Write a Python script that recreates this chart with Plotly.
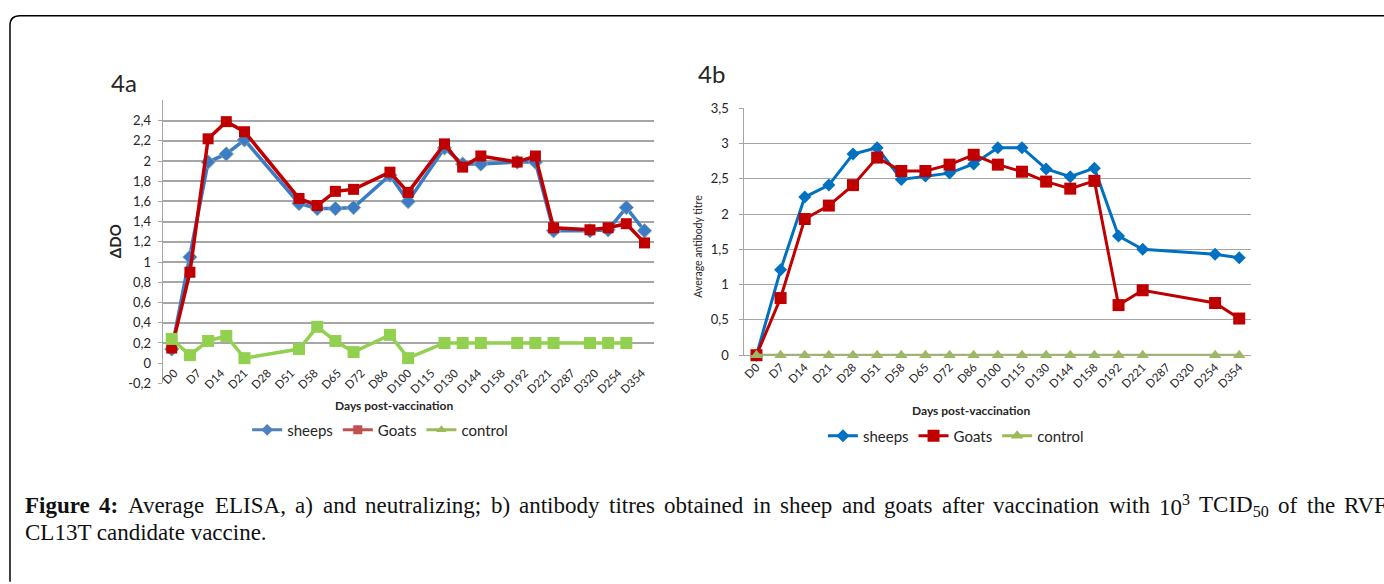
import plotly.graph_objects as go

W, H = 1384, 584

# ---------------- data ----------------
days = ["D0", "D7", "D14", "D21", "D28", "D51", "D58", "D65", "D72", "D86", "D100",
        "D115", "D130", "D144", "D158", "D192", "D221", "D287", "D320", "D254", "D354"]

# 4a: ELISA (delta DO); points sit on 27 evenly spaced slots of the original plot
elisa_slots = [0, 1, 2, 3, 4, 7, 8, 9, 10, 12, 13, 15, 16, 17, 19, 20, 21, 23, 24, 25, 26]
elisa_sheep = [0.14, 1.05, 1.99, 2.07, 2.21, 1.58, 1.53, 1.53, 1.54, 1.86, 1.60,
               2.13, 1.97, 1.97, 1.99, 1.99, 1.31, 1.31, 1.32, 1.54, 1.31]
elisa_goats = [0.15, 0.90, 2.22, 2.39, 2.29, 1.63, 1.56, 1.70, 1.72, 1.89, 1.69,
               2.17, 1.94, 2.05, 1.99, 2.05, 1.34, 1.32, 1.34, 1.38, 1.19]
elisa_control = [0.24, 0.08, 0.22, 0.27, 0.05, 0.14, 0.36, 0.22, 0.11, 0.28, 0.05,
                 0.20, 0.20, 0.20, 0.20, 0.20, 0.20, 0.20, 0.20, 0.20, None]
elisa_ticks = [-0.2, 0, 0.2, 0.4, 0.6, 0.8, 1, 1.2, 1.4, 1.6, 1.8, 2, 2.2, 2.4]
elisa_ticktext = ["-0,2", "0", "0,2", "0,4", "0,6", "0,8", "1", "1,2", "1,4", "1,6",
                  "1,8", "2", "2,2", "2,4"]

# 4b: neutralizing antibody titres
neut_sheep = [0, 1.21, 2.24, 2.41, 2.85, 2.94, 2.49, 2.54, 2.58, 2.71, 2.94,
              2.94, 2.64, 2.53, 2.65, 1.69, 1.50, None, None, 1.43, 1.38]
neut_goats = [0, 0.81, 1.93, 2.12, 2.41, 2.80, 2.61, 2.61, 2.70, 2.84, 2.70,
              2.60, 2.46, 2.36, 2.47, 0.71, 0.92, None, None, 0.74, 0.52]
neut_control = [0, 0, 0, 0, 0, 0, 0, 0, 0, 0, 0,
                0, 0, 0, 0, 0, 0, None, None, 0, 0]
neut_ticks = [0, 0.5, 1, 1.5, 2, 2.5, 3, 3.5]
neut_ticktext = ["0", "0,5", "1", "1,5", "2", "2,5", "3", "3,5"]

# caption words of the (justified) first line; (html, plain text for width, bold)
caption_words = [("<b>Figure</b>", "Figure", True), ("<b>4:</b>", "4:", True),
                 ("Average", "Average", False), ("ELISA,", "ELISA,", False),
                 ("a)", "a)", False), ("and", "and", False),
                 ("neutralizing;", "neutralizing;", False), ("b)", "b)", False),
                 ("antibody", "antibody", False), ("titres", "titres", False),
                 ("obtained", "obtained", False), ("in", "in", False),
                 ("sheep", "sheep", False), ("and", "and", False),
                 ("goats", "goats", False), ("after", "after", False),
                 ("vaccination", "vaccination", False), ("with", "with", False),
                 ("10<sup>3</sup>", "10^", False), ("TCID<sub>50</sub>", "TCID_", False),
                 ("of", "of", False), ("the", "the", False), ("RVF", "RVF", False)]
caption_line2 = "CL13T candidate vaccine."

# ---------------- helpers ----------------
def px_x(x):
    return x / W

def px_y(y):
    return 1 - y / H

# Times New Roman (= Liberation Serif) advance widths, per 1000 em
TNR = dict(zip("abcdefghijklmnopqrstuvwxyz",
               [444, 500, 444, 500, 444, 333, 500, 500, 278, 278, 500, 278, 778,
                500, 500, 500, 500, 333, 389, 278, 500, 500, 722, 500, 500, 444]))
TNR.update(dict(zip("ABCDEFGHIJKLMNOPQRSTUVWXYZ",
                    [722, 667, 667, 722, 611, 556, 722, 722, 333, 389, 722, 611, 889,
                     722, 722, 556, 722, 667, 556, 611, 722, 722, 944, 722, 722, 611])))
TNR.update({c: 500 for c in "0123456789"})
TNR.update({" ": 250, ",": 250, ".": 250, ";": 278, ":": 278, ")": 333, "(": 333,
            "^": 350, "_": 700})
TNRB = dict(TNR)
TNRB.update({"F": 611, "u": 556, "r": 444, ":": 333})

def text_width(s, size, bold=False):
    table = TNRB if bold else TNR
    return sum(table.get(c, 500) for c in s) / 1000 * size

FONT = "Lato"
TXT = "#262626"
GRID = "#a6a6a6"

fig = go.Figure()

# ---------- 4a traces ----------
fig.add_trace(go.Scatter(
    x=elisa_slots, y=elisa_sheep, mode="lines+markers", showlegend=False,
    line=dict(color="#3a7cc6", width=3.5),
    marker=dict(symbol="diamond", size=11, color="#3a7cc6",
                line=dict(color="#8fa3a8", width=1)),
    xaxis="x", yaxis="y", cliponaxis=False))
fig.add_trace(go.Scatter(
    x=elisa_slots, y=elisa_goats, mode="lines+markers", showlegend=False,
    line=dict(color="#c00000", width=3.5),
    marker=dict(symbol="square", size=11, color="#c00000"),
    xaxis="x", yaxis="y", cliponaxis=False))
fig.add_trace(go.Scatter(
    x=elisa_slots, y=elisa_control, mode="lines+markers", showlegend=False,
    line=dict(color="#92d050", width=3.5),
    marker=dict(symbol="square", size=12, color="#92d050"),
    xaxis="x", yaxis="y", cliponaxis=False))

# legend entries of 4a (styled like the original legend)
for name, col, sym in [("sheeps", "#4f81bd", "diamond"),
                       ("Goats", "#c0504d", "square"),
                       ("control", "#9bbb59", "triangle-up")]:
    fig.add_trace(go.Scatter(
        x=[None], y=[None], name=name, mode="lines+markers",
        line=dict(color=col, width=3), marker=dict(symbol=sym, size=9, color=col),
        xaxis="x", yaxis="y", legend="legend"))

# ---------- 4b traces ----------
fig.add_trace(go.Scatter(
    x=days, y=neut_sheep, name="sheeps", mode="lines+markers", connectgaps=True,
    line=dict(color="#0070c0", width=3),
    marker=dict(symbol="diamond", size=10, color="#0070c0"),
    xaxis="x2", yaxis="y2", legend="legend2", cliponaxis=False))
fig.add_trace(go.Scatter(
    x=days, y=neut_goats, name="Goats", mode="lines+markers", connectgaps=True,
    line=dict(color="#c00000", width=3),
    marker=dict(symbol="square", size=12, color="#c00000"),
    xaxis="x2", yaxis="y2", legend="legend2", cliponaxis=False))
fig.add_trace(go.Scatter(
    x=days, y=neut_control, name="control", mode="lines+markers", connectgaps=True,
    line=dict(color="#9bbb59", width=3),
    marker=dict(symbol="triangle-up", size=11, color="#9bbb59"),
    xaxis="x2", yaxis="y2", legend="legend2", cliponaxis=False))

# ---------- axes geometry ----------
a_left, a_right, a_top, a_bot = 160, 652, 95, 386
b_left, b_right, b_top, b_bot = 743, 1251, 103, 357
ya_dom = [px_y(a_bot), px_y(a_top)]
yb_dom = [px_y(b_bot), px_y(b_top)]
n_slots = 27
label_pos = [-0.5 + (i + 0.5) * n_slots / len(days) for i in range(len(days))]
zero_pos = ya_dom[0] + (0 - (-0.2)) / (2.6 - (-0.2)) * (ya_dom[1] - ya_dom[0])

xtickfont = dict(family=FONT, size=11.5, color=TXT)
ytickfont = dict(family=FONT, size=13, color=TXT)

fig.update_layout(
    width=W, height=H, margin=dict(l=0, r=0, t=0, b=0),
    paper_bgcolor="white", plot_bgcolor="white",
    font=dict(family=FONT, color=TXT),
    xaxis=dict(domain=[px_x(a_left), px_x(a_right)], range=[-0.5, n_slots - 0.5],
               anchor="free", position=zero_pos, tickmode="array",
               tickvals=label_pos, ticktext=days, tickangle=-45, tickfont=xtickfont,
               showgrid=False, zeroline=False, showline=False, ticks=""),
    yaxis=dict(domain=ya_dom, range=[-0.2, 2.6], anchor="x", tickmode="array",
               tickvals=elisa_ticks, ticktext=elisa_ticktext, tickfont=ytickfont,
               showgrid=False, zeroline=False, showline=True, linecolor=GRID,
               linewidth=1, ticks="outside", ticklen=4, tickcolor=GRID,
               ticklabelstandoff=4,
               minor=dict(tickmode="array",
                          tickvals=[0.2, 0.4, 0.6, 0.8, 1, 1.2, 1.4, 1.6, 1.8,
                                    2, 2.2, 2.4, 2.6],
                          showgrid=True, gridcolor=GRID, gridwidth=1.5, ticks="")),
    xaxis2=dict(domain=[px_x(b_left), px_x(b_right)], range=[-0.5, len(days) - 0.5],
                anchor="y2", type="category", categoryorder="array",
                categoryarray=days, tickangle=-45, tickfont=xtickfont,
                showgrid=False, zeroline=False, showline=True, linecolor=GRID,
                linewidth=1, ticks=""),
    yaxis2=dict(domain=yb_dom, range=[0, 3.5], anchor="x2", tickmode="array",
                tickvals=neut_ticks, ticktext=neut_ticktext, tickfont=ytickfont,
                showgrid=True, gridcolor=GRID, gridwidth=1.2, zeroline=False,
                showline=True, linecolor=GRID, linewidth=1, ticks="outside",
                ticklen=4, tickcolor=GRID, ticklabelstandoff=8),
    legend=dict(orientation="h", x=px_x(378), y=px_y(434), xanchor="center",
                yanchor="middle", font=dict(family=FONT, size=15, color=TXT),
                bgcolor="rgba(0,0,0,0)", itemwidth=30, tracegroupgap=0),
    legend2=dict(orientation="h", x=px_x(955), y=px_y(440), xanchor="center",
                 yanchor="middle", font=dict(family=FONT, size=15, color=TXT),
                 bgcolor="rgba(0,0,0,0)", itemwidth=30),
)

ann = []
def add_text(text, x, y, size, family=FONT, angle=0, xanchor="center", color=TXT):
    ann.append(dict(text=text, x=px_x(x), y=px_y(y), xref="paper", yref="paper",
                    xanchor=xanchor, yanchor="middle", showarrow=False,
                    textangle=angle, font=dict(family=family, size=size, color=color)))

add_text("4a", 106, 77, 24, xanchor="left")
add_text("4b", 695, 67, 24, xanchor="left")
add_text("<b>ΔDO</b>", 113, 240, 15, angle=-90)
add_text("<b>Days post-vaccination</b>", 392, 409, 12)
add_text("Average antibody titre", 697, 245, 10.5, angle=-90)
add_text("<b>Days post-vaccination</b>", 970, 414, 12)

# caption: first line justified between x0 and x1 (word by word)
SERIF = "Liberation Serif"
CAP = "#111111"
CAP_SIZE = 23
x0, x1 = 20, 1387
widths = [text_width(p, CAP_SIZE, b) for _, p, b in caption_words]
gap = (x1 - x0 - sum(widths)) / (len(caption_words) - 1)
cx = x0
for (html, _, _), w in zip(caption_words, widths):
    add_text(html, cx, 512, CAP_SIZE, family=SERIF, xanchor="left", color=CAP)
    cx += w + gap
add_text(caption_line2, 20, 539, CAP_SIZE, family=SERIF, xanchor="left", color=CAP)
fig.update_layout(annotations=ann)

# outer frame with rounded top-left corner
path = (f"M {px_x(7)},{px_y(590)} L {px_x(7)},{px_y(18)} "
        f"Q {px_x(7)},{px_y(8)} {px_x(17)},{px_y(8)} L {px_x(1400)},{px_y(8)}")
fig.add_shape(type="path", path=path, xref="paper", yref="paper",
              line=dict(color="black", width=1.5))

fig.write_html("out.html", config={"displayModeBar": False},
               post_script="document.body.style.margin='0';"
                           "document.body.style.overflow='hidden';")
